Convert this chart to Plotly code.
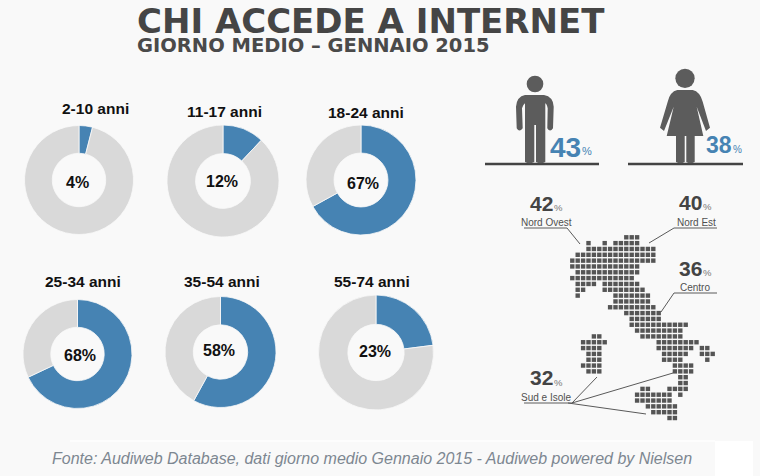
import plotly.graph_objects as go

# ---- data
age_labels = ["2-10 anni", "11-17 anni", "18-24 anni", "25-34 anni", "35-54 anni", "55-74 anni"]
age_values = [4, 12, 67, 68, 58, 23]
gender_values = [43, 38]
area_names = ["Nord Ovest", "Nord Est", "Centro", "Sud e Isole"]
area_values = [42, 40, 36, 32]

# dotted map: for each row, the runs of occupied columns
map_rows = [
    [(10, 12)], [(3, 3), (6, 6), (8, 12)], [(3, 15)], [(1, 15)], [(0, 15)], [(0, 12)], [(1, 12)], [(0, 11)],
    [(1, 4), (6, 12)], [(1, 2), (6, 13)], [(1, 1), (8, 14)], [(8, 14)], [(7, 15)], [(10, 16)], [(11, 16)],
    [(11, 21)], [(12, 20)], [(4, 5), (13, 20)], [(2, 6), (16, 23)], [(2, 5), (16, 22), (24, 25)],
    [(3, 5), (17, 21), (24, 26)], [(3, 5), (17, 20), (25, 25)], [(2, 5), (19, 22)], [(3, 5), (19, 22)],
    [(20, 21)], [(20, 21)], [(13, 14), (18, 21)], [(12, 18), (20, 20)], [(12, 18)], [(14, 19)], [(15, 19)],
    [(18, 19)],
]

# ---- layout constants (reference pixels)
W, H = 760, 476
BG = "#f9f9f9"
BLUE = "#4683b3"
GREY = "#d9d9d9"
donuts = [(79, 180, 54.5), (223, 181, 56), (361, 180, 55), (77.5, 354, 54.5), (220.5, 352, 55.5), (376, 352.5, 57.5)]
label_pos = [(95, 108), (224, 111), (366, 112), (83, 281), (222, 281), (372, 281)]
value_pos = [(77, 182), (222, 181), (363, 183), (80, 355), (219, 350), (375, 351)]

fig = go.Figure()

xs, ys = [], []
for r, runs in enumerate(map_rows):
    for a, b in runs:
        for c in range(a, b + 1):
            xs.append(572.3 + 5.4 * c)
            ys.append(237.3 + 5.83 * r)
fig.add_trace(go.Scatter(x=xs, y=ys, mode="markers", hoverinfo="skip", showlegend=False,
                         marker=dict(symbol="square", size=4.4, color="#555555", line=dict(width=0))))

for (cx, cy, r), v in zip(donuts, age_values):
    fig.add_trace(go.Pie(values=[v, 100 - v], sort=False, direction="clockwise", rotation=0, hole=0.49,
                         textinfo="none", hoverinfo="skip", showlegend=False,
                         marker=dict(colors=[BLUE, GREY], line=dict(color=BG, width=0.8)),
                         domain=dict(x=[(cx - r) / W, (cx + r) / W], y=[1 - (cy + r) / H, 1 - (cy - r) / H])))

ann = []
def text(x, y, s, size, color, family="Liberation Sans", weight="normal", italic=False, anchor="center"):
    ann.append(dict(x=x, y=y, xref="x", yref="y", text=s, showarrow=False, xanchor=anchor, yanchor="middle",
                    font=dict(family=family, size=size, color=color, weight=weight,
                              style="italic" if italic else "normal")))

text(371, 20.5, "CHI ACCEDE A INTERNET", 34, "#454545", "DejaVu Sans", "bold")
text(135, 45.5, "GIORNO MEDIO – GENNAIO 2015", 19.5, "#4a4a4a", "DejaVu Sans", "bold", anchor="left")
for (x, y), s in zip(label_pos, age_labels):
    text(x, y, s, 15.5, "#111111", weight="bold")
for (x, y), v in zip(value_pos, age_values):
    text(x, y, f"{v}%", 16, "#111111", weight="bold")

text(565, 147, str(gender_values[0]), 28, BLUE, weight="bold")
text(587, 151, "%", 11, BLUE)
text(718.5, 145, str(gender_values[1]), 23, BLUE, weight="bold")
text(737, 149, "%", 10, BLUE)

area_big = [(541.5, 203), (690, 202), (690, 268), (541.5, 377)]
area_pct = [(558, 207), (707, 206), (707, 272), (558, 382)]
area_lab = [(546, 222), (696, 222), (695, 287), (546, 397)]
for n, v, b, p, l in zip(area_names, area_values, area_big, area_pct, area_lab):
    text(b[0], b[1], str(v), 21, "#444444", weight="bold")
    text(p[0], p[1], "%", 9.5, "#777777")
    text(l[0], l[1], n, 10, "#505050")

text(372, 458, "Fonte: Audiweb Database, dati giorno medio Gennaio 2015 - Audiweb powered by Nielsen",
     16, "#7d8791", italic=True)

shapes = []
def line(pts, color="#5a5a5a", width=1):
    d = "M" + " L".join(f"{x},{y}" for x, y in pts)
    shapes.append(dict(type="path", xref="x", yref="y", path=d, line=dict(color=color, width=width)))

shapes.append(dict(type="rect", xref="x", yref="y", x0=715, x1=753, y0=441, y1=476, fillcolor="#ffffff",
                   line=dict(width=0), layer="below"))
shapes.append(dict(type="rect", xref="x", yref="y", x0=70, x1=715, y0=440, y1=442, fillcolor="#fdfdfd",
                   line=dict(width=0), layer="below"))

line([(485, 164), (599, 164)], "#444444", 2.5)
line([(628, 164), (743, 164)], "#444444", 2.5)
line([(524, 228), (567, 228), (580, 244)])
line([(717, 228), (674, 228), (649, 243)])
line([(717, 293), (674, 293), (661, 312)])
line([(524, 403), (572, 403), (597, 377)])
line([(572, 403), (673, 373)])
line([(568, 403), (646, 414)])

def P(x, y):
    return f"{470 + x / 3:.1f},{60 + y / 3:.1f}"
def icon(cmds):
    parts = [c[0] + " ".join(P(*p) for p in c[1:]) for c in cmds]
    shapes.append(dict(type="path", xref="x", yref="y", path=" ".join(parts) + " Z", fillcolor="#5c5c5c",
                       line=dict(width=0)))
def head(x, y, r):
    shapes.append(dict(type="circle", xref="x", yref="y", x0=470 + (x - r) / 3, x1=470 + (x + r) / 3,
                       y0=60 + (y - r) / 3, y1=60 + (y + r) / 3, fillcolor="#5c5c5c", line=dict(width=0)))

head(195, 72, 25)
icon([("M", (165, 105)), ("L", (222, 105)), ("Q", (250, 110), (251, 140)), ("L", (249, 205)),
      ("Q", (240, 218), (232, 205)), ("L", (233, 145)), ("Q", (230, 132), (226, 130)), ("L", (226, 306)),
      ("Q", (212, 314), (198, 306)), ("L", (198, 195)), ("L", (193, 195)), ("L", (193, 306)),
      ("Q", (178, 314), (165, 306)), ("L", (165, 130)), ("Q", (158, 135), (156, 145)), ("L", (158, 205)),
      ("Q", (148, 218), (140, 205)), ("L", (138, 140)), ("Q", (140, 110), (165, 105))])
head(645, 55, 29)
icon([("M", (622, 90)), ("L", (668, 90)), ("Q", (690, 95), (698, 125)), ("L", (720, 203)), ("L", (708, 213)),
      ("L", (680, 140)), ("L", (700, 228)), ("L", (674, 228)), ("L", (674, 306)), ("Q", (661, 314), (649, 306)),
      ("L", (649, 228)), ("L", (644, 228)), ("L", (644, 306)), ("Q", (631, 314), (618, 306)), ("L", (618, 228)),
      ("L", (590, 228)), ("L", (611, 140)), ("L", (582, 213)), ("L", (570, 203)), ("L", (593, 125)),
      ("Q", (600, 95), (622, 90))])

fig.update_layout(width=W, height=H, margin=dict(l=0, r=0, t=0, b=0), paper_bgcolor=BG, plot_bgcolor=BG,
                  showlegend=False, annotations=ann, shapes=shapes,
                  xaxis=dict(range=[0, W], visible=False, fixedrange=True),
                  yaxis=dict(range=[H, 0], visible=False, fixedrange=True))
fig.write_html("out.html", config=dict(displayModeBar=False),
               post_script="document.body.style.margin='0';document.documentElement.style.overflow='hidden';")
